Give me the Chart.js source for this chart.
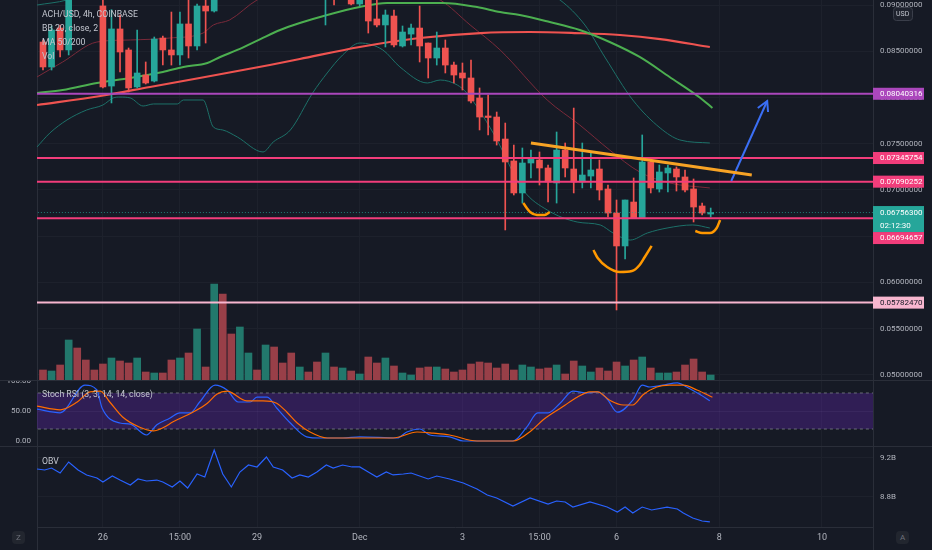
<!DOCTYPE html>
<html>
<head>
<meta charset="utf-8">
<title>ACH/USD 4h</title>
<script src="https://cdn.jsdelivr.net/npm/chart.js@4.4.1/dist/chart.umd.min.js"></script>
<style>
  html, body { margin: 0; padding: 0; background: #161a25; }
  #wrap { position: relative; width: 932px; height: 550px; background: #2a2e39; overflow: hidden; font-family: Roboto, 'Noto Sans', sans-serif; }
  .pane { position: absolute; left: 0; width: 932px; background: #161a25; }
  .pane canvas { display: block; }
  .lbl { position: absolute; left: 42px; font-size: 8.7px; line-height: 10px; color: #c3c6cf; white-space: nowrap; }
  .vline { position: absolute; top: 527px; height: 23px; width: 1px; background: #2a2e39; }
  .btn { position: absolute; width: 13px; height: 13px; border-radius: 4px; background: #22262f; color: #6f727c; font-size: 8px; line-height: 13px; text-align: center; }
</style>
</head>
<body>
<div id="wrap">
  <div class="pane" style="top:0;height:380px"><canvas id="mainChart" width="932" height="380"></canvas></div>
  <div class="pane" style="top:381px;height:65px"><canvas id="stochChart" width="932" height="65"></canvas></div>
  <div class="pane" style="top:447px;height:103px"><canvas id="obvChart" width="932" height="103"></canvas></div>
  <div class="vline" style="left:37px"></div>
  <div class="vline" style="left:873px"></div>
  <div class="lbl" style="top:9px">ACH/USD, 4h, COINBASE</div>
  <div class="lbl" style="top:23px">BB 20, close, 2</div>
  <div class="lbl" style="top:37px">MA 50/200</div>
  <div class="lbl" style="top:51px">Vol</div>
  <div class="lbl" style="top:389px">Stoch RSI (3, 3, 14, 14, close)</div>
  <div class="lbl" style="top:456px">OBV</div>
  <div class="btn" style="left:12px;top:531px">Z</div>
  <div class="btn" style="left:896px;top:531px">A</div>
</div>
<script>
'use strict';

// 4h candles, index 0 = Nov 24 20:00
let opens = [
  0.08600, 0.08330, 0.08751, 0.08514, 0.09350, 0.09240, 0.09160, 0.08990, 0.08124, 0.08741,
  0.08514, 0.08114, 0.08243, 0.08178, 0.08643, 0.08514, 0.08460, 0.08795, 0.08557, 0.08989,
  0.08935, 0.09600, 0.09350, 0.09200, 0.09520, 0.09580, 0.09500, 0.09680, 0.09500, 0.09400,
  0.09280, 0.09380, 0.09330, 0.09200, 0.09350, 0.09250, 0.09320, 0.09011, 0.09150, 0.08849,
  0.08784, 0.08881, 0.08557, 0.08686, 0.08751, 0.08589, 0.08427, 0.08535, 0.08351, 0.08265,
  0.08211, 0.07995, 0.07800, 0.07789, 0.07551, 0.07314, 0.06968, 0.07292, 0.07324, 0.07238,
  0.07076, 0.07432, 0.07227, 0.07087, 0.07151, 0.07227, 0.07011, 0.06751, 0.06395, 0.06870,
  0.06697, 0.07303, 0.07011, 0.07184, 0.07227, 0.07141, 0.07011, 0.06827, 0.06740
];
let highs = [
  0.08622, 0.08773, 0.08784, 0.09450, 0.09520, 0.09300, 0.09210, 0.09120, 0.08950, 0.08892,
  0.08535, 0.08730, 0.08384, 0.08654, 0.08665, 0.08924, 0.08924, 0.09060, 0.09011, 0.09100,
  0.09750, 0.09850, 0.09450, 0.09620, 0.09650, 0.09620, 0.09750, 0.09720, 0.09550, 0.09460,
  0.09420, 0.09400, 0.09360, 0.09400, 0.09400, 0.09380, 0.09350, 0.09250, 0.09200, 0.09070,
  0.08946, 0.08946, 0.08773, 0.08795, 0.08989, 0.08589, 0.08708, 0.08622, 0.08384, 0.08373,
  0.08405, 0.08103, 0.08027, 0.07843, 0.07724, 0.07486, 0.07454, 0.07432, 0.07411, 0.07270,
  0.07627, 0.07508, 0.07886, 0.07508, 0.07400, 0.07324, 0.07054, 0.06892, 0.06892, 0.07130,
  0.07595, 0.07346, 0.07270, 0.07270, 0.07249, 0.07216, 0.07119, 0.06859, 0.06805
];
let lows = [
  0.08297, 0.08297, 0.08438, 0.08460, 0.09180, 0.09120, 0.09060, 0.08103, 0.07941, 0.08276,
  0.08060, 0.08103, 0.08146, 0.08168, 0.08351, 0.08351, 0.08351, 0.08427, 0.08514, 0.08589,
  0.08924, 0.09150, 0.09120, 0.09140, 0.09400, 0.09440, 0.09450, 0.09450, 0.09350, 0.09220,
  0.09250, 0.09300, 0.09150, 0.08784, 0.09000, 0.09150, 0.09000, 0.08990, 0.08697, 0.08762,
  0.08546, 0.08546, 0.08546, 0.08568, 0.08384, 0.08211, 0.08351, 0.08265, 0.08157, 0.08081,
  0.07941, 0.07649, 0.07595, 0.07486, 0.06568, 0.06946, 0.06859, 0.07130, 0.07054, 0.06870,
  0.06859, 0.07141, 0.06968, 0.07022, 0.07022, 0.06892, 0.06708, 0.05703, 0.06254, 0.06697,
  0.06697, 0.06968, 0.06978, 0.06978, 0.06989, 0.06978, 0.06654, 0.06730, 0.06708
];
let closes = [
  0.08330, 0.08730, 0.08514, 0.09350, 0.09240, 0.09160, 0.09080, 0.08114, 0.08741, 0.08492,
  0.08103, 0.08265, 0.08157, 0.08632, 0.08514, 0.08460, 0.08795, 0.08557, 0.08989, 0.08935,
  0.09600, 0.09350, 0.09200, 0.09520, 0.09580, 0.09500, 0.09680, 0.09500, 0.09400, 0.09280,
  0.09380, 0.09330, 0.09200, 0.09350, 0.09250, 0.09320, 0.09011, 0.09150, 0.08827, 0.08784,
  0.08892, 0.08568, 0.08708, 0.08751, 0.08557, 0.08427, 0.08535, 0.08351, 0.08243, 0.08211,
  0.07962, 0.07789, 0.07784, 0.07530, 0.07303, 0.06968, 0.07292, 0.07346, 0.07238, 0.07087,
  0.07432, 0.07238, 0.07087, 0.07162, 0.07216, 0.07000, 0.06751, 0.06395, 0.06892, 0.06697,
  0.07303, 0.07022, 0.07195, 0.07238, 0.07141, 0.07000, 0.06816, 0.06751, 0.067563
];
let volumes = [
  10, 9, 15, 40, 32, 20, 10, 16, 22, 19,
  17, 22, 8, 7, 7, 20, 22, 27, 51, 13,
  96, 86, 46, 53, 27, 10, 35, 33, 17, 27,
  13, 8, 18, 27, 13, 12, 9, 6, 23, 17,
  22, 14, 7, 5, 12, 13, 13, 11, 8, 10,
  16, 18, 17, 12, 16, 10, 15, 13, 11, 12,
  15, 6, 19, 14, 8, 12, 9, 18, 14, 20,
  23, 12, 7, 7, 8, 15, 21, 8, 5
];

// indicator lines (x = candle index)
let ma50Idx = [-0.7, 2.3, 6.3, 10.2, 14.0, 16.4, 19.2, 20.7, 22.7, 25.4, 27.7, 30.0, 33.2, 37.0, 40.2, 46.7, 50.7, 53.4, 55.7, 59.2, 62.7, 66.2, 69.7, 73.2, 76.8, 78.2];
let ma50Val = [0.08049, 0.08081, 0.08157, 0.08211, 0.08276, 0.0833, 0.08373, 0.08438, 0.08514, 0.08632, 0.0873, 0.08805, 0.08892, 0.08978, 0.09022, 0.09022, 0.08978, 0.08924, 0.08892, 0.08816, 0.0873, 0.086, 0.08438, 0.08222, 0.07995, 0.07887];
let ma200Idx = [-0.7, 6.7, 12.5, 18.3, 26.5, 30.0, 37.0, 44.0, 51.1, 56.9, 62.1, 67.4, 72.1, 77.9];
let ma200Val = [0.07919, 0.08016, 0.08114, 0.08211, 0.08351, 0.08416, 0.08546, 0.08643, 0.08697, 0.08708, 0.08697, 0.08676, 0.08632, 0.08546];
let bbMidIdx = [-0.7, 2.3, 6.3, 10.2, 14.8, 18.7, 19.9, 21.8, 25.0, 30.0, 37.0, 42.9, 46.4, 49.9, 53.4, 58.9, 62.7, 66.2, 69.7, 73.2, 77.9];
let bbMidVal = [0.08222, 0.08384, 0.086, 0.08622, 0.08643, 0.08697, 0.08784, 0.08838, 0.09054, 0.09216, 0.0927, 0.09162, 0.09054, 0.08784, 0.08514, 0.07973, 0.07703, 0.07432, 0.07195, 0.07076, 0.07022];
let bbUpIdx = [-0.7, 2.8, 9.0, 18.3, 30.0, 41.7, 51.1, 58.1, 60.4, 63.3, 65.7, 68.9, 72.1, 74.4, 77.9];
let bbUpVal = [0.09, 0.09054, 0.0927, 0.09378, 0.09486, 0.09486, 0.09378, 0.09162, 0.09054, 0.08784, 0.08427, 0.07973, 0.0767, 0.07541, 0.07508];
let bbLoIdx = [-0.7, 0.8, 2.8, 5.1, 7.0, 8.2, 9.0, 10.2, 11.7, 12.9, 15.7, 16.4, 18.7, 19.9, 21.0, 22.7, 25.7, 26.9, 28.9, 31.5, 33.2, 35.0, 37.0, 39.7, 41.7, 44.9, 46.4, 48.4, 49.5, 52.6, 56.1, 58.9, 62.4, 65.1, 66.6, 68.6, 70.6, 72.9, 75.9, 77.9];
let bbLoVal = [0.07465, 0.07616, 0.07757, 0.07865, 0.07919, 0.07995, 0.08005, 0.07995, 0.07908, 0.0793, 0.0793, 0.07973, 0.07973, 0.07681, 0.07649, 0.07573, 0.07411, 0.07519, 0.07649, 0.08049, 0.08265, 0.08459, 0.08589, 0.08514, 0.0833, 0.08157, 0.08189, 0.08135, 0.08049, 0.07616, 0.07, 0.06784, 0.06654, 0.06622, 0.06535, 0.06459, 0.06535, 0.06589, 0.06622, 0.06589];

let stochKIdx = [-0.7, 2.0, 4.9, 6.3, 6.9, 9.0, 10.2, 12.1, 13.3, 14.8, 16.0, 17.2, 18.3, 20.1, 21.5, 22.8, 24.2, 25.0, 26.2, 27.3, 28.9, 30.8, 32.4, 35.0, 37.0, 41.4, 42.5, 44.0, 45.2, 47.5, 49.1, 50.7, 54.9, 56.5, 57.8, 59.0, 60.4, 61.9, 63.6, 64.8, 65.9, 67.1, 68.9, 70.0, 70.9, 72.4, 74.1, 75.2, 76.8, 77.9];
let stochK = [53, 47, 93, 85, 55, 30, 28, 10, 27, 38, 47, 47, 65, 93, 85, 65, 65, 73, 73, 55, 30, 7, 5, 5, 7, 5, 15, 20, 10, 7, 0, 0, 0, 23, 47, 47, 63, 83, 80, 82, 70, 48, 68, 93, 90, 93, 97, 90, 77, 67];
let stochDIdx = [-0.7, 2.0, 4.0, 5.5, 6.7, 7.8, 9.3, 11.3, 12.9, 14.0, 15.2, 17.5, 19.2, 20.3, 21.5, 23.8, 25.7, 27.3, 28.5, 29.7, 31.2, 33.2, 37.0, 40.9, 43.7, 45.6, 47.5, 50.7, 54.9, 57.1, 58.4, 60.7, 62.4, 63.9, 64.8, 66.2, 67.8, 68.9, 70.1, 71.7, 73.2, 74.8, 76.4, 78.2];
let stochD = [58, 52, 65, 82, 83, 65, 40, 23, 17, 22, 32, 48, 63, 78, 83, 67, 67, 63, 48, 30, 15, 5, 5, 5, 15, 13, 10, 0, 0, 18, 35, 57, 73, 82, 82, 68, 60, 60, 77, 90, 93, 93, 85, 73];

let obvIdx = [-0.7, 0.2, 1.0, 2.0, 3.0, 4.1, 5.1, 6.3, 7.0, 8.1, 9.0, 10.2, 11.1, 12.1, 13.3, 14.0, 15.1, 16.0, 16.9, 18.0, 18.9, 20.0, 21.0, 22.0, 23.0, 24.0, 25.0, 26.1, 26.9, 28.0, 29.1, 30.0, 31.0, 32.0, 33.1, 33.9, 35.0, 36.1, 37.0, 38.0, 39.0, 40.1, 40.9, 42.1, 43.0, 44.0, 45.0, 46.0, 47.5, 49.1, 50.7, 51.9, 53.0, 54.9, 56.9, 59.0, 60.0, 61.0, 61.9, 63.9, 65.9, 67.1, 68.0, 68.9, 70.0, 71.1, 72.9, 74.1, 74.8, 75.9, 77.0, 77.9];
let obvVal = [9.087, 9.077, 9.097, 9.046, 9.159, 9.077, 9.026, 8.995, 8.954, 9.015, 8.974, 8.923, 8.985, 8.964, 8.974, 8.954, 8.903, 8.964, 8.892, 9.036, 9.005, 9.282, 9.036, 8.903, 9.056, 9.128, 9.108, 9.210, 9.108, 9.077, 8.995, 9.026, 9.005, 9.056, 9.128, 9.097, 9.128, 9.108, 9.108, 9.056, 9.005, 9.056, 9.026, 9.036, 9.046, 9.015, 8.985, 9.015, 8.985, 8.944, 8.882, 8.821, 8.790, 8.708, 8.790, 8.728, 8.759, 8.749, 8.697, 8.749, 8.697, 8.646, 8.697, 8.636, 8.697, 8.667, 8.697, 8.677, 8.636, 8.585, 8.554, 8.544];

// horizontal levels and drawings
let levelVals = [0.08040316, 0.07345754, 0.07090252, 0.06694657, 0.05782470];
let levelColors = ['#ab47bc', '#f23d7b', '#f23d7b', '#f23d7b', '#f7b6cf'];
let lastPrice = 0.067563;
let countdown = '02:12:30';
let trendIdx = [57.0, 82.8];
let trendVal = [0.07508, 0.07162];
let arrowIdx = [80.4, 84.6];
let arrowVal = [0.07097, 0.07962];
let arrowHeadIdx = [83.5, 84.6, 84.7];
let arrowHeadVal = [0.07886, 0.07962, 0.07843];
let smile1Idx = [56.1, 56.9, 57.7, 58.6, 59.2];
let smile1Val = [0.06859, 0.06762, 0.0673, 0.0673, 0.06762];
let smile2Idx = [64.3, 64.8, 65.9, 67.4, 68.8, 69.7, 70.3, 71.1];
let smile2Val = [0.06351, 0.06265, 0.06168, 0.06114, 0.06124, 0.06189, 0.06276, 0.06395];
let smile3Idx = [76.2, 77.0, 77.9, 78.7, 79.1];
let smile3Val = [0.06557, 0.06535, 0.06535, 0.06589, 0.06676];

// axes
let priceTicks = [0.05, 0.055, 0.06, 0.065, 0.07, 0.075, 0.08, 0.085, 0.09];
let xTickIdx = [7, 16, 25, 37, 49, 58, 67, 79, 91];
let xTickLabels = ['26', '15:00', '29', 'Dec', '3', '15:00', '6', '8', '10'];
let obvTicks = [8.8, 9.2];
let stochTicks = [0, 50, 100];

const FONT = "Roboto, 'Noto Sans', sans-serif";
let xMin = -0.7;
let xMax = 96.96;

function isUp(i) {
  return closes[i] >= opens[i];
}
function points(xs, ys) {
  return xs.map((x, k) => ({ x: x, y: ys[k] }));
}
function flatLine(v) {
  return [{ x: xMin - 2, y: v }, { x: xMax + 2, y: v }];
}
function lineSet(data, color, width, order, extra) {
  return Object.assign({
    type: 'line', yAxisID: 'y', data: data, borderColor: color, borderWidth: width,
    pointRadius: 0, fill: false, order: order, cubicInterpolationMode: 'monotone'
  }, extra || {});
}
function xAxis(showLabels) {
  return {
    type: 'linear', min: xMin, max: xMax, offset: false,
    grid: { color: '#1d212c', drawTicks: false, offset: false },
    border: { display: showLabels, color: '#2a2e39' },
    ticks: {
      display: showLabels, autoSkip: false, maxRotation: 0, color: '#b2b5be', padding: 5,
      font: { family: FONT, size: 9 },
      callback: v => xTickLabels[xTickIdx.indexOf(v)]
    },
    afterBuildTicks: s => { s.ticks = xTickIdx.map(v => ({ value: v })); },
    afterFit: s => { s.height = showLabels ? 23 : 0; s.paddingLeft = 0; s.paddingRight = 0; }
  };
}
function sideAxis(pos, w) {
  return {
    type: 'linear', position: pos, display: true,
    ticks: { display: false }, grid: { display: false }, border: { color: '#2a2e39' },
    afterFit: s => { s.width = w; s.paddingTop = 0; s.paddingBottom = 0; }
  };
}

let candleColors = opens.map((o, i) => isUp(i) ? '#26a69a' : '#ef5350');
let volColors = opens.map((o, i) => isUp(i) ? '#22786c' : '#983f48');

// price tags on the right scale
let tagPlugin = {
  id: 'tags',
  afterDraw(chart) {
    let ctx = chart.ctx;
    let ys = chart.scales.y;
    let x0 = chart.chartArea.right;
    ctx.save();
    ctx.font = '8px ' + FONT;
    ctx.textBaseline = 'middle';
    let yLast = ys.getPixelForValue(lastPrice);
    ctx.fillStyle = '#26a69a';
    ctx.fillRect(x0, yLast - 6.5, 51, 26);
    ctx.fillStyle = '#ffffff';
    ctx.fillText(lastPrice.toFixed(8), x0 + 7, yLast);
    ctx.fillText(countdown, x0 + 7, yLast + 13);
    levelVals.forEach((v, k) => {
      let yc = ys.getPixelForValue(v);
      if (yc + 6 > yLast - 6.5 && yc - 6 < yLast + 19.5) {
        yc = yLast + 25.5;
      }
      ctx.fillStyle = levelColors[k];
      ctx.fillRect(x0, yc - 6, 51, 12);
      ctx.fillStyle = k === 4 ? '#131722' : '#ffffff';
      ctx.fillText(v.toFixed(8), x0 + 7, yc);
    });
    // USD badge
    ctx.fillStyle = '#1e222d';
    ctx.strokeStyle = '#3a3e4a';
    ctx.beginPath();
    ctx.roundRect(893.5, 7.5, 19, 13, 3);
    ctx.fill();
    ctx.stroke();
    ctx.fillStyle = '#c3c6cf';
    ctx.font = '7px ' + FONT;
    ctx.fillText('USD', 896, 14.5);
    ctx.restore();
  }
};

let levelSets = levelVals.map((v, k) => lineSet(flatLine(v), levelColors[k], 2, 3));

new Chart(document.getElementById('mainChart'), {
  type: 'bar',
  data: {
    datasets: [
      { type: 'bar', yAxisID: 'yVol', data: volumes.map((v, i) => ({ x: i, y: v })), backgroundColor: volColors, barThickness: 7, grouped: false, order: 20 },
      lineSet(points(bbUpIdx, bbUpVal), '#1d7169', 1, 15),
      lineSet(points(bbLoIdx, bbLoVal), '#1d7169', 1, 15),
      lineSet(points(bbMidIdx, bbMidVal), '#7a2a3a', 1, 15),
      lineSet(points(ma50Idx, ma50Val), '#4caf50', 2, 12),
      lineSet(points(ma200Idx, ma200Val), '#ef5350', 2.2, 12),
      { type: 'bar', yAxisID: 'y', data: highs.map((h, i) => ({ x: i, y: [lows[i], h] })), backgroundColor: candleColors, barThickness: 1, grouped: false, order: 8 },
      { type: 'bar', yAxisID: 'y', data: opens.map((o, i) => ({ x: i, y: [o, closes[i]] })), backgroundColor: candleColors, barThickness: 6, minBarLength: 1, grouped: false, order: 7 },
      lineSet(flatLine(lastPrice), 'rgba(38,166,154,0.7)', 1, 4, { borderDash: [1, 2] }),
      ...levelSets,
      lineSet(points(trendIdx, trendVal), '#f7a325', 3, 1),
      lineSet(points(arrowIdx, arrowVal), '#3b6ff5', 2, 1),
      lineSet(points(arrowHeadIdx, arrowHeadVal), '#3b6ff5', 2, 1, { cubicInterpolationMode: 'default' }),
      lineSet(points(smile1Idx, smile1Val), '#ff9800', 2.5, 1),
      lineSet(points(smile2Idx, smile2Val), '#ff9800', 2.5, 1),
      lineSet(points(smile3Idx, smile3Val), '#ff9800', 2.5, 1)
    ]
  },
  options: {
    responsive: false,
    animation: false,
    events: [],
    layout: { padding: 0 },
    plugins: { legend: { display: false }, tooltip: { enabled: false } },
    scales: {
      x: xAxis(false),
      y: {
        type: 'linear', position: 'right', min: 0.049459, max: 0.090541,
        grid: { color: '#1d212c', drawTicks: false },
        border: { color: '#2a2e39' },
        ticks: { color: '#b2b5be', padding: 7, font: { family: FONT, size: 8 }, callback: v => v.toFixed(8) },
        afterBuildTicks: s => { s.ticks = priceTicks.map(v => ({ value: v })); },
        afterFit: s => { s.width = 59; s.paddingTop = 0; s.paddingBottom = 0; }
      },
      yl: sideAxis('left', 37),
      yVol: { type: 'linear', display: false, min: 0, max: 380 }
    }
  },
  plugins: [tagPlugin]
});

new Chart(document.getElementById('stochChart'), {
  type: 'line',
  data: {
    datasets: [
      lineSet(flatLine(80), '#6a6d78', 1, 5, { borderDash: [3, 3] }),
      lineSet(flatLine(20), '#6a6d78', 1, 5, { borderDash: [3, 3], fill: '-1', backgroundColor: 'rgba(110,40,200,0.3)' }),
      lineSet(points(stochKIdx, stochK), '#2962ff', 1.2, 2),
      lineSet(points(stochDIdx, stochD), '#ff6d00', 1.2, 1)
    ]
  },
  options: {
    responsive: false,
    animation: false,
    events: [],
    layout: { padding: 0 },
    plugins: { legend: { display: false }, tooltip: { enabled: false } },
    scales: {
      x: xAxis(false),
      y: {
        type: 'linear', position: 'left', min: -8.33, max: 100,
        grid: { drawTicks: false, color: c => c.tick && c.tick.value === 50 ? 'rgba(255,255,255,0.06)' : 'rgba(0,0,0,0)' },
        border: { color: '#2a2e39' },
        ticks: { color: '#b2b5be', padding: 6, font: { family: FONT, size: 8 }, callback: v => v.toFixed(2) },
        afterBuildTicks: s => { s.ticks = stochTicks.map(v => ({ value: v })); },
        afterFit: s => { s.width = 37; s.paddingTop = 0; s.paddingBottom = 0; }
      },
      yr: sideAxis('right', 59)
    }
  }
});

new Chart(document.getElementById('obvChart'), {
  type: 'line',
  data: {
    datasets: [lineSet(points(obvIdx, obvVal), '#2962ff', 1.2, 1, { cubicInterpolationMode: 'default', tension: 0 })]
  },
  options: {
    responsive: false,
    animation: false,
    events: [],
    layout: { padding: 0 },
    plugins: { legend: { display: false }, tooltip: { enabled: false } },
    scales: {
      x: xAxis(true),
      y: {
        type: 'linear', position: 'right', min: 8.4923, max: 9.3128,
        grid: { color: '#1d212c', drawTicks: false },
        border: { color: '#2a2e39' },
        ticks: { color: '#b2b5be', padding: 7, font: { family: FONT, size: 8 }, callback: v => v.toFixed(1) + 'B' },
        afterBuildTicks: s => { s.ticks = obvTicks.map(v => ({ value: v })); },
        afterFit: s => { s.width = 59; s.paddingTop = 0; s.paddingBottom = 0; }
      },
      yl: sideAxis('left', 37)
    }
  }
});
</script>
</body>
</html>
